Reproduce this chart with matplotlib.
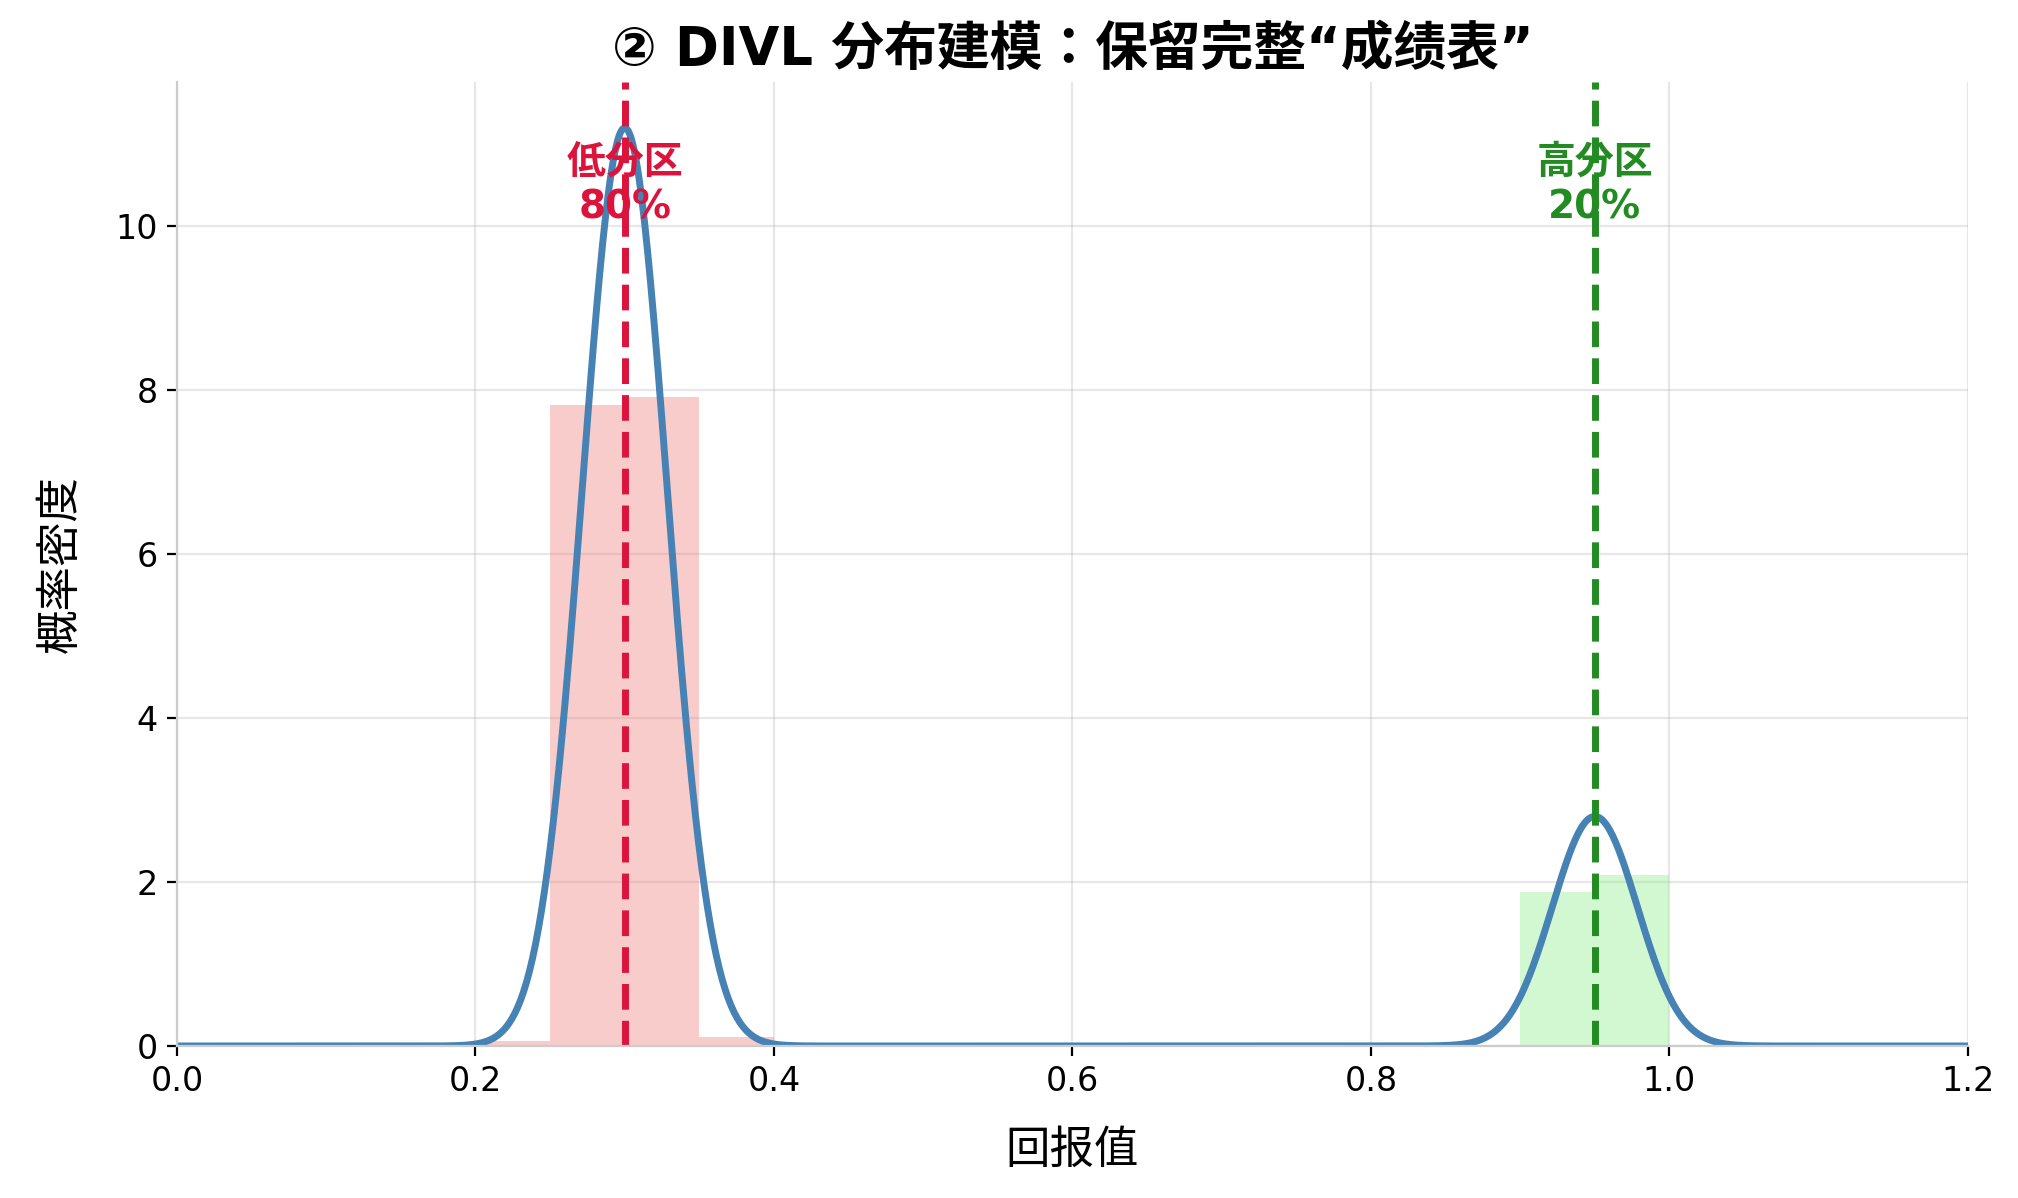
import numpy as np
import matplotlib
matplotlib.use("Agg")
import matplotlib.pyplot as plt

plt.rcParams['font.family'] = ['DejaVu Sans', 'Noto Sans CJK JP']
plt.rcParams['axes.unicode_minus'] = False

# histogram (density), bin width 0.05
bin_width = 0.05
low_left = [0.20, 0.25, 0.30, 0.35]
low_density = [0.06, 7.82, 7.92, 0.11]
high_left = [0.90, 0.95]
high_density = [1.88, 2.08]

# fitted two-peak density curve
peak_centers = [0.30, 0.95]
peak_weights = [0.80, 0.20]
peak_sigmas = [0.0285, 0.0285]

zone_labels = ['低分区\n80%', '高分区\n20%']
zone_colors = ['crimson', 'forestgreen']

x = np.linspace(0, 1.2, 1200)
pdf = np.zeros_like(x)
for m, w, s in zip(peak_centers, peak_weights, peak_sigmas):
    pdf += w * np.exp(-0.5 * ((x - m) / s) ** 2) / (s * np.sqrt(2 * np.pi))

fig = plt.figure(figsize=(10.09, 5.99), dpi=200)
ax = fig.add_axes([0.0877, 0.1269, 0.8875, 0.8047])

ax.bar(low_left, low_density, width=bin_width, align='edge', color='lightcoral', alpha=0.4, linewidth=0)
ax.bar(high_left, high_density, width=bin_width, align='edge', color='lightgreen', alpha=0.4, linewidth=0)
ax.plot(x, pdf, color='steelblue', linewidth=2.5)

for m, lab, c in zip(peak_centers, zone_labels, zone_colors):
    ax.axvline(m, color=c, linestyle='--', linewidth=2.5)
    ax.text(m, 10.5, lab, color=c, fontsize=14, fontweight='bold', ha='center', va='center')

ax.set_xlim(0, 1.2)
ax.set_xticks([0.0, 0.2, 0.4, 0.6, 0.8, 1.0, 1.2])
ax.set_yticks([0, 2, 4, 6, 8, 10])
ax.tick_params(labelsize=12)
ax.grid(True, alpha=0.3)
ax.set_axisbelow(True)
for sp in ['top', 'right']:
    ax.spines[sp].set_visible(False)
for sp in ['left', 'bottom']:
    ax.spines[sp].set_color('#cccccc')

ax.set_xlabel('回报值', fontsize=16, labelpad=11)
ax.set_ylabel('概率密度', fontsize=16, labelpad=12)
ax.set_title('② DIVL 分布建模：保留完整“成绩表”', fontsize=19, fontweight='bold', pad=6)

fig.savefig('out.png', dpi=200)
